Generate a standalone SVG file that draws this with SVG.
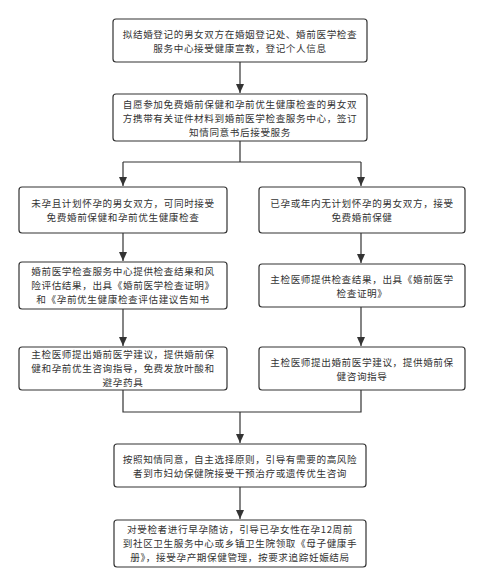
<svg xmlns="http://www.w3.org/2000/svg" width="484" height="586" viewBox="0 0 484 586">
<style>
.box{fill:#fff;stroke:#333;stroke-width:1.2}
.t{font-family:"Noto Sans CJK SC","Noto Sans",sans-serif;font-size:9.6px;letter-spacing:0.6px;fill:#333;text-anchor:middle}
.c{fill:none;stroke:#333;stroke-width:1.2}
</style>
<defs>
<marker id="ah" markerUnits="userSpaceOnUse" markerWidth="10" markerHeight="10" viewBox="0 0 10 10" refX="9" refY="5" orient="auto">
<path d="M0,1 L9,5 L0,9 Z" fill="#333"/>
</marker>
</defs>
<rect width="484" height="586" fill="#fff"/>
<g id="connectors">
<path class="c" d="M240,62 V93" marker-end="url(#ah)"/>
<path class="c" d="M240,141 V162 M123,162 H361"/>
<path class="c" d="M123,162 V186" marker-end="url(#ah)"/>
<path class="c" d="M361,162 V186" marker-end="url(#ah)"/>
<path class="c" d="M123,233 V261" marker-end="url(#ah)"/>
<path class="c" d="M361,233 V263" marker-end="url(#ah)"/>
<path class="c" d="M123,309 V346" marker-end="url(#ah)"/>
<path class="c" d="M361,307 V346" marker-end="url(#ah)"/>
<path class="c" d="M123,390 V412 H361 V390"/>
<path class="c" d="M240,412 V443" marker-end="url(#ah)"/>
<path class="c" d="M240,487 V519" marker-end="url(#ah)"/>
</g>
<g id="n1">
<rect class="box" x="113" y="19" width="254" height="43" rx="3"/>
<text class="t" x="240" y="38.4">拟结婚登记的男女双方在婚姻登记处、婚前医学检查</text>
<text class="t" x="240" y="52.4">服务中心接受健康宣教，登记个人信息</text>
</g>
<g id="n2">
<rect class="box" x="113" y="94" width="254" height="47" rx="3"/>
<text class="t" x="240" y="108">自愿参加免费婚前保健和孕前优生健康检查的男女双</text>
<text class="t" x="240" y="122">方携带有关证件材料到婚前医学检查服务中心，签订</text>
<text class="t" x="240" y="136">知情同意书后接受服务</text>
</g>
<g id="n3">
<rect class="box" x="19" y="187" width="208" height="46" rx="3"/>
<text class="t" x="123" y="207">未孕且计划怀孕的男女双方，可同时接受</text>
<text class="t" x="123" y="221">免费婚前保健和孕前优生健康检查</text>
</g>
<g id="n4">
<rect class="box" x="259" y="187" width="206" height="46" rx="3"/>
<text class="t" x="362" y="207">已孕或年内无计划怀孕的男女双方，接受</text>
<text class="t" x="362" y="221">免费婚前保健</text>
</g>
<g id="n5">
<rect class="box" x="19" y="262" width="208" height="47" rx="3"/>
<text class="t" x="123" y="275">婚前医学检查服务中心提供检查结果和风</text>
<text class="t" x="123" y="289">险评估结果，出具《婚前医学检查证明》</text>
<text class="t" x="123" y="303">和《孕前优生健康检查评估建议告知书</text>
</g>
<g id="n6">
<rect class="box" x="259" y="264" width="206" height="43" rx="3"/>
<text class="t" x="362" y="283.4">主检医师提供检查结果，出具《婚前医学</text>
<text class="t" x="362" y="297.4">检查证明》</text>
</g>
<g id="n7">
<rect class="box" x="19" y="347" width="208" height="43" rx="3"/>
<text class="t" x="123" y="358">主检医师提出婚前医学建议，提供婚前保</text>
<text class="t" x="123" y="372">健和孕前优生咨询指导，免费发放叶酸和</text>
<text class="t" x="123" y="386">避孕药具</text>
</g>
<g id="n8">
<rect class="box" x="259" y="347" width="206" height="43" rx="3"/>
<text class="t" x="362" y="366.4">主检医师提出婚前医学建议，提供婚前保</text>
<text class="t" x="362" y="380.4">健咨询指导</text>
</g>
<g id="n9">
<rect class="box" x="114" y="444" width="252" height="43" rx="3"/>
<text class="t" x="240" y="463.4">按照知情同意，自主选择原则，引导有需要的高风险</text>
<text class="t" x="240" y="477.4">者到市妇幼保健院接受干预治疗或遗传优生咨询</text>
</g>
<g id="n10">
<rect class="box" x="114" y="520" width="252" height="47" rx="3"/>
<text class="t" x="240" y="533.4">对受检者进行早孕随访，引导已孕女性在孕12周前</text>
<text class="t" x="240" y="547.4">到社区卫生服务中心或乡镇卫生院领取《母子健康手</text>
<text class="t" x="240" y="561.4">册》，接受孕产期保健管理，按要求追踪妊娠结局</text>
</g>
</svg>
